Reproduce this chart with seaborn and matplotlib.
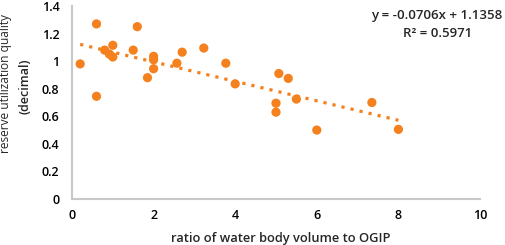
import matplotlib
matplotlib.use("Agg")
import matplotlib.pyplot as plt
import seaborn as sns
import numpy as np
import pandas as pd

ratio = [0.2, 0.6, 0.6, 0.8, 0.92, 1.0, 1.0, 1.5, 1.6, 1.85, 2.0, 2.0, 2.0, 2.57, 2.7,
         3.23, 3.77, 4.0, 5.07, 5.3, 5.0, 5.0, 5.5, 6.0, 7.35, 8.0]
quality = [0.98, 1.27, 0.745, 1.08, 1.05, 1.115, 1.03, 1.08, 1.25, 0.88, 1.035, 1.01, 0.945, 0.985, 1.065,
           1.095, 0.985, 0.835, 0.91, 0.875, 0.695, 0.63, 0.725, 0.50, 0.70, 0.505]
slope = -0.0706
intercept = 1.1358
r2 = 0.5971
x_ticks = [0, 2, 4, 6, 8, 10]
y_ticks = [0, 0.2, 0.4, 0.6, 0.8, 1.0, 1.2, 1.4]
y_tick_labels = ["0", "0.2", "0.4", "0.6", "0.8", "1", "1.2", "1.4"]

sns.set_style("white")
plt.rcParams['font.family'] = ['Open Sans', 'DejaVu Sans']

color = "#F5801E"
df = pd.DataFrame({"ratio": ratio, "quality": quality})

fig = plt.figure(figsize=(5.05, 2.45), dpi=100)
ax = fig.add_axes([72/505, 1-199/245, (480-72)/505, (199-6)/245])

xs = np.array([min(ratio), max(ratio)])
ax.plot(xs, slope*xs + intercept, linestyle=(0, (1, 1.9)), color=color, linewidth=2.3)
sns.scatterplot(data=df, x="ratio", y="quality", ax=ax, color=color, s=44, edgecolor="none", zorder=3)

ax.set_xlim(0, 10)
ax.set_ylim(0, 1.4)
ax.set_xticks(x_ticks)
ax.set_xticklabels([str(t) for t in x_ticks], fontsize=9, fontweight="semibold")
ax.set_yticks(y_ticks)
ax.set_yticklabels(y_tick_labels, fontsize=9, fontweight="semibold")
ax.tick_params(axis="y", length=0, pad=9, colors="#000000")
ax.tick_params(axis="x", length=0, pad=7, colors="#000000")
ax.set_xlabel("")
ax.set_ylabel("")
for s in ["top", "right"]:
    ax.spines[s].set_visible(False)
for s in ["left", "bottom"]:
    ax.spines[s].set_color("#C8C8C8")
    ax.spines[s].set_linewidth(1.5)

fig.text(281/505, 1-238/245, "ratio of water body volume to OGIP", ha="center", va="center",
         fontsize=9.3, fontweight="semibold")
fig.text(6/505, 1-83/245, "reserve utilization quality", ha="center", va="center",
         rotation=90, fontsize=8.6)
fig.text(25/505, 1-86/245, "(decimal)", ha="center", va="center",
         rotation=90, fontsize=9, fontweight="semibold")
fig.text(437/505, 1-15/245, f"y = {slope:.4f}x + {intercept:.4f}", ha="center", va="center",
         fontsize=9.5, fontweight="semibold")
fig.text(438/505, 1-33/245, f"R² = {r2:.4f}", ha="center", va="center",
         fontsize=9.5, fontweight="semibold")

fig.savefig("out.png", dpi=100)
